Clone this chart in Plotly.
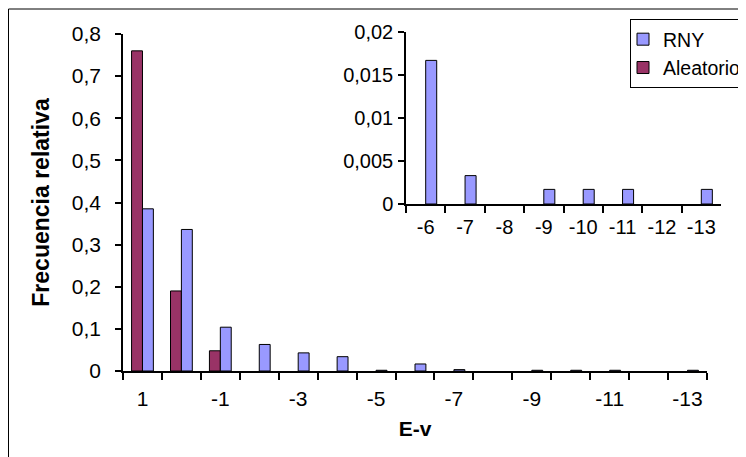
import plotly.graph_objects as go

# ---- data ----
categories = ["1", "0", "-1", "-2", "-3", "-4", "-5", "-6", "-7", "-8", "-9", "-10", "-11", "-12", "-13"]
main_tick_labels = ["1", "", "-1", "", "-3", "", "-5", "", "-7", "", "-9", "", "-11", "", "-13"]
rny = [0.385, 0.336, 0.104, 0.063, 0.043, 0.034, 0.0017, 0.0167, 0.0033, 0, 0.0017, 0.0017, 0.0017, 0, 0.0017]
aleatorio = [0.76, 0.19, 0.048, None, None, None, None, None, None, None, None, None, None, None, None]
inset_start = 7  # inset shows categories -6 .. -13
main_yticks = [0, 0.1, 0.2, 0.3, 0.4, 0.5, 0.6, 0.7, 0.8]
inset_yticks = [0, 0.005, 0.01, 0.015, 0.02]

# the page places the figure 8px from the window's top-left corner
OFF = 8
W, H = 746 - OFF, 457 - OFF
FONT = "Liberation Sans, Arial, sans-serif"
COL_RNY = "#9999FF"
COL_ALE = "#993366"


def fx(a):
    return (a - OFF) / W


def fy(y):
    return (H - (y - OFF)) / H


def px_x(a, b):
    return [fx(a), fx(b)]


def px_y(top, bottom):
    return [fy(bottom), fy(top)]


def outline(vals):
    # empty (zero) bars get no outline, as in the original
    return [1 if (v is not None and v != 0) else 0 for v in vals]


fig = go.Figure()

# main chart
fig.add_trace(go.Bar(x=categories, y=aleatorio, name="Aleatorio", legendrank=2,
                     marker=dict(color=COL_ALE, line=dict(color="black", width=outline(aleatorio))),
                     xaxis="x", yaxis="y"))
fig.add_trace(go.Bar(x=categories, y=rny, name="RNY", legendrank=1,
                     marker=dict(color=COL_RNY, line=dict(color="black", width=outline(rny))),
                     xaxis="x", yaxis="y"))

# inset chart
ins_cats = categories[inset_start:]
ins_ale = aleatorio[inset_start:]
ins_rny = rny[inset_start:]
fig.add_trace(go.Bar(x=ins_cats, y=ins_ale, name="Aleatorio", showlegend=False,
                     marker=dict(color=COL_ALE, line=dict(color="black", width=outline(ins_ale))),
                     xaxis="x2", yaxis="y2"))
fig.add_trace(go.Bar(x=ins_cats, y=ins_rny, name="RNY", showlegend=False,
                     marker=dict(color=COL_RNY, line=dict(color="black", width=outline(ins_rny))),
                     xaxis="x2", yaxis="y2"))

axis_common = dict(showline=True, linecolor="black", linewidth=1.5, ticks="outside", tickcolor="black",
                   tickwidth=1.5, showgrid=False, zeroline=False, automargin=False)
main_tickfont = dict(family=FONT, size=21, color="black")
inset_tickfont = dict(family=FONT, size=20, color="black")

fig.update_layout(
    template="none",
    width=W, height=H, autosize=False,
    margin=dict(l=0, r=0, t=0, b=0, pad=0, autoexpand=False),
    paper_bgcolor="white", plot_bgcolor="rgba(0,0,0,0)",
    separators=",.",
    barmode="group", bargap=0.44, bargroupgap=0,
    font=dict(family=FONT, color="black"),
    xaxis=dict(domain=px_x(123, 707), type="category", categoryorder="array", categoryarray=categories,
               tickmode="array", tickvals=categories, ticktext=main_tick_labels, tickson="boundaries",
               tickangle=0, ticklen=7, ticklabelstandoff=8, anchor="y", tickfont=main_tickfont,
               title=dict(text="<b>E-v</b>", font=dict(family=FONT, size=21, color="black"), standoff=12),
               **axis_common),
    yaxis=dict(domain=px_y(34, 371), range=[0, 0.8], tickmode="array", tickvals=main_yticks,
               ticklen=6, ticklabelstandoff=10, anchor="x", tickfont=main_tickfont,
               title=dict(text="<b>Frecuencia relativa</b>", font=dict(family=FONT, size=23, color="black"), standoff=16),
               **axis_common),
    xaxis2=dict(domain=px_x(406, 721), type="category", categoryorder="array", categoryarray=ins_cats,
                tickson="boundaries", tickangle=0, ticklen=7, ticklabelstandoff=4, anchor="y2",
                tickfont=inset_tickfont, **axis_common),
    yaxis2=dict(domain=px_y(32, 204), range=[0, 0.02], tickmode="array", tickvals=inset_yticks,
                ticklen=6, ticklabelstandoff=1, anchor="x2", tickfont=inset_tickfont, **axis_common),
    legend=dict(x=fx(630), y=fy(19), xanchor="left", yanchor="top", traceorder="normal",
                indentation=-8, bgcolor="white", bordercolor="black", borderwidth=1,
                font=dict(family=FONT, size=19.5, color="black")),
    shapes=[dict(type="rect", xref="paper", yref="paper", x0=0.5 / W, x1=1.05, y0=-0.05, y1=fy(9),
                 line=dict(color="black", width=1), fillcolor="rgba(0,0,0,0)", layer="below")],
    showlegend=True,
)

fig.write_html("out.html")
